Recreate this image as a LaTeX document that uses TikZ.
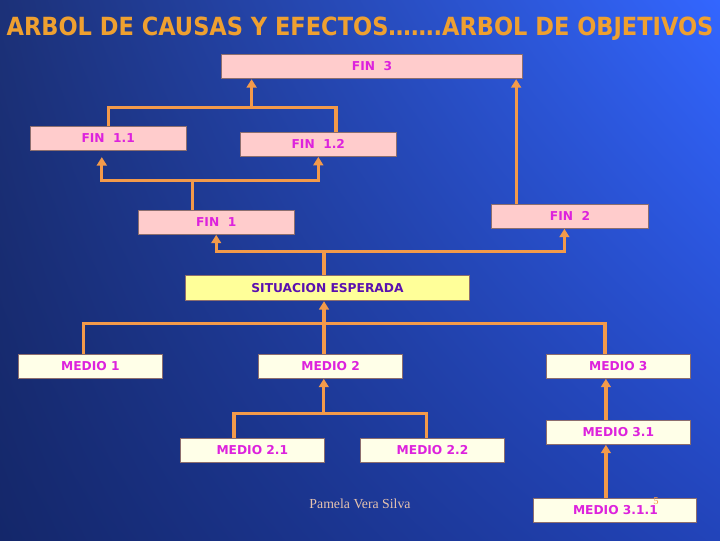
\documentclass[tikz,border=0pt]{standalone}
\usepackage{fontspec}
\usepackage{tikz}
\usetikzlibrary{arrows.meta,shadings}
\newfontfamily\cajafont{DejaVu Sans}
\newfontfamily\titulofont{DejaVu Sans Condensed Bold}
\newfontfamily\piefont{Liberation Serif}

\definecolor{fondoUL}{HTML}{1C3178}
\definecolor{fondoUR}{HTML}{3366FF}
\definecolor{fondoLL}{HTML}{14276A}
\definecolor{fondoLR}{HTML}{2244BA}
\definecolor{naranja}{HTML}{F39A4A}
\definecolor{titulo}{HTML}{EFA030}
\definecolor{rosa}{HTML}{FFCCCC}
\definecolor{marfil}{HTML}{FFFFE8}
\definecolor{amarillo}{HTML}{FFFF99}
\definecolor{borde}{HTML}{8C6E6E}
\definecolor{letra}{HTML}{DD22DD}
\definecolor{morado}{HTML}{5A10B0}
\definecolor{pie}{HTML}{E6C3AE}

\tikzset{
  caja/.style={draw=borde, line width=.7pt, minimum height=.6cm, inner sep=0pt,
    font=\cajafont\bfseries\fontsize{8.7}{10}\selectfont},
  fin/.style={caja, fill=rosa, text=letra, minimum width=3.9cm},
  medio/.style={caja, fill=marfil, text=letra, minimum width=3.61cm},
  situacion/.style={caja, fill=amarillo, text=morado, minimum width=7.08cm, minimum height=.62cm},
  linea/.style={naranja, line width=2.3pt},
  flecha/.style={linea, -{Triangle[width=7pt,length=6pt]}}
}

\begin{document}
\begin{tikzpicture}[x=0.025cm,y=-0.025cm]
	% fondo
	\shade[upper left=fondoUL, upper right=fondoUR, lower left=fondoLL, lower right=fondoLR]
		(0,0) rectangle (720,540);
	\useasboundingbox (0,0) rectangle (720,540);
	
	\node[titulo, anchor=base, inner sep=0pt, font=\titulofont\fontsize{17.8}{20}\selectfont] (tit) at (360,35)
		{ARBOL DE CAUSAS Y EFECTOS…….ARBOL DE OBJETIVOS};
	
	% fines
	\node[fin, minimum width=7.5cm, minimum height=.61cm] (fin3) at (372,66.5) {FIN\ \ 3};
	\node[fin] (fin11) at (108.2,138.4) {FIN\ \ 1.1};
	\node[fin] (fin12) at (318.3,144.4) {FIN\ \ 1.2};
	\node[fin] (fin1) at (216.2,222.3) {FIN\ \ 1};
	\node[fin] (fin2) at (570,216.3) {FIN\ \ 2};
	
	\node[situacion] (sit) at (327.5,288.3) {SITUACION ESPERADA};
	
	% medios
	\node[medio] (m1) at (90.4,366.3) {MEDIO 1};
	\node[medio] (m2) at (330.6,366.3) {MEDIO 2};
	\node[medio] (m3) at (618.3,366.3) {MEDIO 3};
	\node[medio] (m21) at (252.3,450.3) {MEDIO 2.1};
	\node[medio] (m22) at (432.5,450.3) {MEDIO 2.2};
	\node[medio] (m31) at (618.3,432.3) {MEDIO 3.1};
	\node[medio, minimum width=4.07cm] (m311) at (615.4,510.3) {MEDIO 3.1.1};
	
	\node[pie, font=\piefont\fontsize{9.8}{11}\selectfont] (autor) at (360,504) {Pamela Vera Silva};
	\node[text=naranja, font=\piefont\fontsize{7.5}{8}\selectfont, inner sep=0pt] (num) at (656,501) {5};
	
	% puntos de union
	\coordinate (j3) at (251.6,107.3);
	\coordinate (j1) at (192.3,180.3);
	\coordinate (js) at (324,251.7);
	\coordinate (jm) at (324,323.3);
	\coordinate (jm2) at (323.8,413.3);
	\coordinate (f3) at ([xshift=-0.16cm]fin3.south east);
	\coordinate (c3) at ([xshift=-0.31cm]m3.south);
	
	% fin 1.1 y fin 1.2 -> fin 3
	\draw[linea] (fin11.north) |- (j3) -| ([xshift=0.44cm]fin12.north);
	\draw[flecha] (j3) -- (j3 |- fin3.south);
	\draw[flecha] (fin2.north -| f3) -- (f3);
	
	% fin 1 -> fin 1.1 y fin 1.2
	\draw[linea] (fin1.north -| j1) -- (j1);
	\draw[flecha] (j1) -| ([xshift=-0.16cm,yshift=-0.155cm]fin11.south);
	\draw[flecha] (j1) -| (fin12.south);
	
	% situacion -> fin 1 y fin 2
	\draw[linea] (sit.north -| js) -- (js);
	\draw[flecha] (js) -| (fin1.south);
	\draw[flecha] (js) -| ([xshift=-0.14cm]fin2.south);
	
	% medios -> situacion
	\draw[linea] ([xshift=-0.17cm]m1.north) |- (jm) -| ([xshift=-0.33cm]m3.north);
	\draw[flecha] (m2.north -| jm) -- (sit.south -| jm);
	
	\draw[linea] ([xshift=-0.46cm]m21.north) |- (jm2) -| ([xshift=-0.155cm]m22.north);
	\draw[flecha] (jm2) -- (jm2 |- m2.south);
	
	\draw[flecha] (m31.north -| c3) -- (c3);
	\draw[flecha] (m311.north -| c3) -- (m31.south -| c3);
\end{tikzpicture}
\end{document}
